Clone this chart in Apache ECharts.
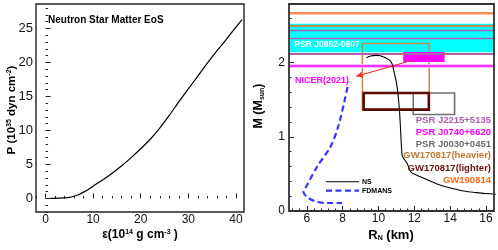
<!DOCTYPE html>
<html><head><meta charset="utf-8">
<script src="https://cdn.jsdelivr.net/npm/echarts@6/dist/echarts.min.js"></script>
<style>html,body{margin:0;padding:0;background:#fff}#c{width:498px;height:250px}</style>
</head><body><div id="c"></div>
<script>
// ---------- data ----------
const eosEps = [1, 3, 5, 6, 7, 8, 9, 10, 11, 12, 14, 16, 18, 20, 22, 24, 26, 28, 30, 32, 34, 36, 38, 40, 41.3];
const eosP   = [0, 0.03, 0.15, 0.32, 0.58, 0.92, 1.32, 1.8, 2.25, 2.7, 3.7, 4.8, 6.0, 7.3, 8.7, 10.35, 12.2, 14.2, 16.1, 18.0, 19.9, 21.7, 23.4, 25.2, 26.3];

const nsR = [9.32, 9.55, 9.88, 10.1, 10.29, 10.5, 10.67, 10.78, 10.85, 10.95, 11.04, 11.11, 11.17, 11.22, 11.26, 11.32, 11.41, 11.60, 11.75, 11.88, 12.16, 12.72, 13.2, 13.65, 14.2, 14.77, 15.3, 15.89, 16.55];
const nsM = [2.067, 2.089, 2.098, 2.093, 2.075, 2.05, 2.02, 1.97, 1.896, 1.79, 1.67, 1.52, 1.357, 1.155, 0.95, 0.75, 0.706, 0.64, 0.55, 0.51, 0.48, 0.42, 0.37, 0.333, 0.30, 0.27, 0.252, 0.238, 0.225];

const fdmR = [8.27, 7.77, 7.31, 6.56, 5.90, 5.81, 6.0, 6.46, 7.12, 7.96];
const fdmM = [1.67, 1.155, 0.863, 0.593, 0.30, 0.256, 0.19, 0.13, 0.108, 0.108];

// horizontal mass constraints (M_sun)
const gw190814Mass = [2.50, 2.668];
const j2215Mass = [2.12, 2.33, 2.445];
const j0952Band = [2.14, 2.525];
const magentaLineMass = [1.964];

// boxes: [Rmin, Rmax], [Mmin, Mmax]
const gwHeavyR = [9.10, 12.83], gwHeavyM = [1.367, 2.256];
const gwLightR = [9.17, 12.81], gwLightM = [1.367, 1.59];
const j0030R = [11.94, 14.25], j0030M = [1.30, 1.59];
const j0740R = [11.38, 13.69], j0740M = [2.008, 2.143];

// NICER arrow: from, to
const arrowFrom = [11.88, 2.031], arrowTo = [8.76, 1.815];

// ticks
const leftXTicks = [0, 10, 20, 30, 40];
const leftYTicks = [0, 5, 10, 15, 20, 25];
const rightXTicks = [6, 8, 10, 12, 14, 16];
const rightYTicks = [0, 1, 2];

const labels = ['PSR J2215+5135', 'PSR J0740+6620', 'PSR J0030+0451', 'GW170817(heavier)', 'GW170817(lighter)', 'GW190814'];
const labelColors = ['#b05cb0', '#ff00ff', '#6a6a6a', '#c07830', '#6a1010', '#ff6a20'];

// ---------- helpers ----------
const FF = '"Liberation Sans", Arial, Helvetica, sans-serif';
function minors(min, max, step, majors) {
  const out = [];
  const start = Math.ceil(min / step - 1e-9);
  for (let i = start; i * step <= max + 1e-9; i++) {
    const v = +(i * step).toFixed(6);
    if (v < min - 1e-9) continue;
    if (majors.some(m => Math.abs(m - v) < 1e-6)) continue;
    out.push(v);
  }
  return out;
}
function axes(gridIndex, min, max, majors, minorStep, fontSize, margin, pos) {
  const common = {gridIndex, type: 'value', min, max, position: pos,
    axisLine: {show: false}, splitLine: {show: false}};
  return [
    Object.assign({}, common, {
      axisTick: {show: true, inside: true, length: 5, customValues: majors, lineStyle: {color: '#222', width: 1}},
      axisLabel: {show: true, customValues: majors, fontSize, color: '#111', margin, fontFamily: FF}
    }),
    Object.assign({}, common, {
      axisTick: {show: true, inside: true, length: 2.5, customValues: minors(min, max, minorStep, majors), lineStyle: {color: '#222', width: 1}},
      axisLabel: {show: false}
    })
  ];
}
const zip = (a, b) => a.map((v, i) => [v, b[i]]);
const rect = (R, M) => [{coord: [R[0], M[1]]}, {coord: [R[1], M[0]]}];

const xAxis = [
  ...axes(0, -2, 41.7, leftXTicks, 2, 12, 2, 'bottom'),
  ...axes(1, 5, 16.45, rightXTicks, 0.4, 12, 2, 'bottom')
];
const yAxis = [
  ...axes(0, -2, 28.6, leftYTicks, 1, 13, 3, 'left'),
  ...axes(1, 0, 2.79, rightYTicks, 0.2, 12, 4, 'left')
];

const hline = (y, color, width) => ({yAxis: y, lineStyle: {color, width, type: 'solid'}});

const series = [
  {type: 'line', xAxisIndex: 0, yAxisIndex: 0, data: zip(eosEps, eosP), showSymbol: false, symbol: 'none',
   lineStyle: {color: '#000', width: 1.2}, smooth: 0.2, z: 5},
  // cyan band
  {type: 'line', xAxisIndex: 2, yAxisIndex: 2, data: [], z: 1,
   markArea: {silent: true, itemStyle: {color: '#00ffff'}, data: [[{yAxis: j0952Band[0]}, {yAxis: j0952Band[1]}]]}},
  // horizontal lines
  {type: 'line', xAxisIndex: 2, yAxisIndex: 2, data: [], z: 2,
   markLine: {silent: true, symbol: ['none', 'none'], label: {show: false}, animation: false,
     data: [
       hline(gw190814Mass[1] - 0.022, '#ffc9a8', 1),
       hline(magentaLineMass[0], '#ffc0ff', 4),
       hline(gw190814Mass[0], '#ff6020', 1.6),
       hline(gw190814Mass[1], '#ff6020', 1.6),
       hline(j2215Mass[0], '#b060b0', 2),
       hline(j2215Mass[1], '#b060b0', 1.4),
       hline(j2215Mass[2], '#b060b0', 1.4),
       hline(magentaLineMass[0], '#ff00ff', 1.6)
     ]}},
  // boxes
  {type: 'line', xAxisIndex: 2, yAxisIndex: 2, data: [], z: 3,
   markArea: {silent: true, data: [
     [Object.assign(rect(gwHeavyR, gwHeavyM)[0], {itemStyle: {color: 'rgba(0,0,0,0)', borderColor: '#c8884a', borderWidth: 1.5}}), rect(gwHeavyR, gwHeavyM)[1]],
     [Object.assign(rect(j0030R, j0030M)[0], {itemStyle: {color: 'rgba(0,0,0,0)', borderColor: '#707070', borderWidth: 1.6}}), rect(j0030R, j0030M)[1]],
     [Object.assign(rect(gwLightR, gwLightM)[0], {itemStyle: {color: 'rgba(0,0,0,0)', borderColor: '#5a0c04', borderWidth: 2.6}}), rect(gwLightR, gwLightM)[1]],
     [Object.assign(rect(j0740R, j0740M)[0], {itemStyle: {color: '#ff00ff', borderWidth: 0}}), rect(j0740R, j0740M)[1]]
   ]}},
  // arrow
  {type: 'line', xAxisIndex: 2, yAxisIndex: 2, data: [], z: 4,
   markLine: {silent: true, symbol: ['none', 'arrow'], symbolSize: [5, 7], label: {show: false}, animation: false,
     lineStyle: {color: '#ff2020', width: 1, type: 'solid'},
     data: [[{coord: arrowFrom}, {coord: arrowTo}]]}},
  {type: 'line', xAxisIndex: 2, yAxisIndex: 2, data: zip(nsR, nsM), showSymbol: false, symbol: 'none',
   lineStyle: {color: '#000', width: 1.1}, smooth: 0.12, z: 6},
  {type: 'line', xAxisIndex: 2, yAxisIndex: 2, data: zip(fdmR, fdmM), showSymbol: false, symbol: 'none',
   lineStyle: {color: '#3535ff', width: 2.2, type: [6, 3.5]}, smooth: 0.3, z: 6}
];

const txt = (x, y, text, opts) => ({type: 'text', x, y, z: 20, silent: true,
  style: Object.assign({text, fill: '#000', font: 'bold 10px ' + FF, align: 'left', verticalAlign: 'middle'}, opts || {})});

const graphic = [
  txt(48, 20, 'Neutron Star Matter EoS', {font: 'bold 10px ' + FF}),
  txt(294.5, 44.5, 'PSR J0952-0607', {fill: '#ffffff', font: 'bold 8.5px ' + FF}),
  txt(295, 81, 'NICER(2021)', {fill: '#ff00ff', font: 'bold 9px ' + FF}),
  ...labels.map((t, i) => txt(491, [120, 132.3, 144.3, 155.8, 168.3, 180.7][i], t,
     {fill: labelColors[i], align: 'right', font: 'bold 9.5px ' + FF})),
  // legend
  {type: 'line', z: 20, silent: true, shape: {x1: 326, y1: 181.7, x2: 359, y2: 181.7}, style: {stroke: '#000', lineWidth: 1.1}},
  {type: 'line', z: 20, silent: true, shape: {x1: 326, y1: 190.7, x2: 359, y2: 190.7}, style: {stroke: '#3535ff', lineWidth: 2.2, lineDash: [6, 3.5]}},
  txt(362, 182, 'NS', {font: 'bold 7px ' + FF}),
  txt(362, 191, 'FDMANS', {font: 'bold 7px ' + FF}),
  // axis names
  {type: 'text', x: 140, y: 235, z: 20, silent: true, style: {
    text: '{a|ε(10}{s|14}{a| g cm}{s|-3}{a| )}', align: 'center', verticalAlign: 'middle',
    rich: {a: {font: 'bold 12px ' + FF, fill: '#000'}, s: {font: 'bold 7px ' + FF, fill: '#000', verticalAlign: 'top'}}}},
  {type: 'text', x: 12, y: 110, z: 20, silent: true, rotation: Math.PI / 2, style: {
    text: '{a|P (10}{s|35}{a| dyn cm}{s|-2}{a|)}', align: 'center', verticalAlign: 'middle',
    rich: {a: {font: 'bold 11.5px ' + FF, fill: '#000'}, s: {font: 'bold 7px ' + FF, fill: '#000', verticalAlign: 'top'}}}},
  {type: 'text', x: 391, y: 235, z: 20, silent: true, style: {
    text: '{a|R}{b|N}{a| (km)}', align: 'center', verticalAlign: 'middle',
    rich: {a: {font: 'bold 13px ' + FF, fill: '#000'}, b: {font: 'bold 7px ' + FF, fill: '#000', verticalAlign: 'bottom'}}}},
  {type: 'text', x: 259, y: 106, z: 20, silent: true, rotation: Math.PI / 2, style: {
    text: '{a|M (M}{b|sun}{a|)}', align: 'center', verticalAlign: 'middle',
    rich: {a: {font: 'bold 12.5px ' + FF, fill: '#000'}, b: {font: 'bold 7px ' + FF, fill: '#000', verticalAlign: 'bottom'}}}}
];

const option = {
  animation: false,
  backgroundColor: '#fff',
  textStyle: {fontFamily: FF},
  grid: [
    {left: 36, top: 4, width: 208, height: 208, show: true, borderColor: '#222', borderWidth: 1.4, backgroundColor: 'transparent', z: 10},
    {left: 289, top: 4, width: 205, height: 207, show: true, borderColor: '#333', borderWidth: 1.8, backgroundColor: 'transparent', z: 10}
  ],
  xAxis, yAxis, series, graphic
};
const chart = echarts.init(document.getElementById('c'), null, {renderer: 'canvas'});
chart.setOption(option);
</script></body></html>
